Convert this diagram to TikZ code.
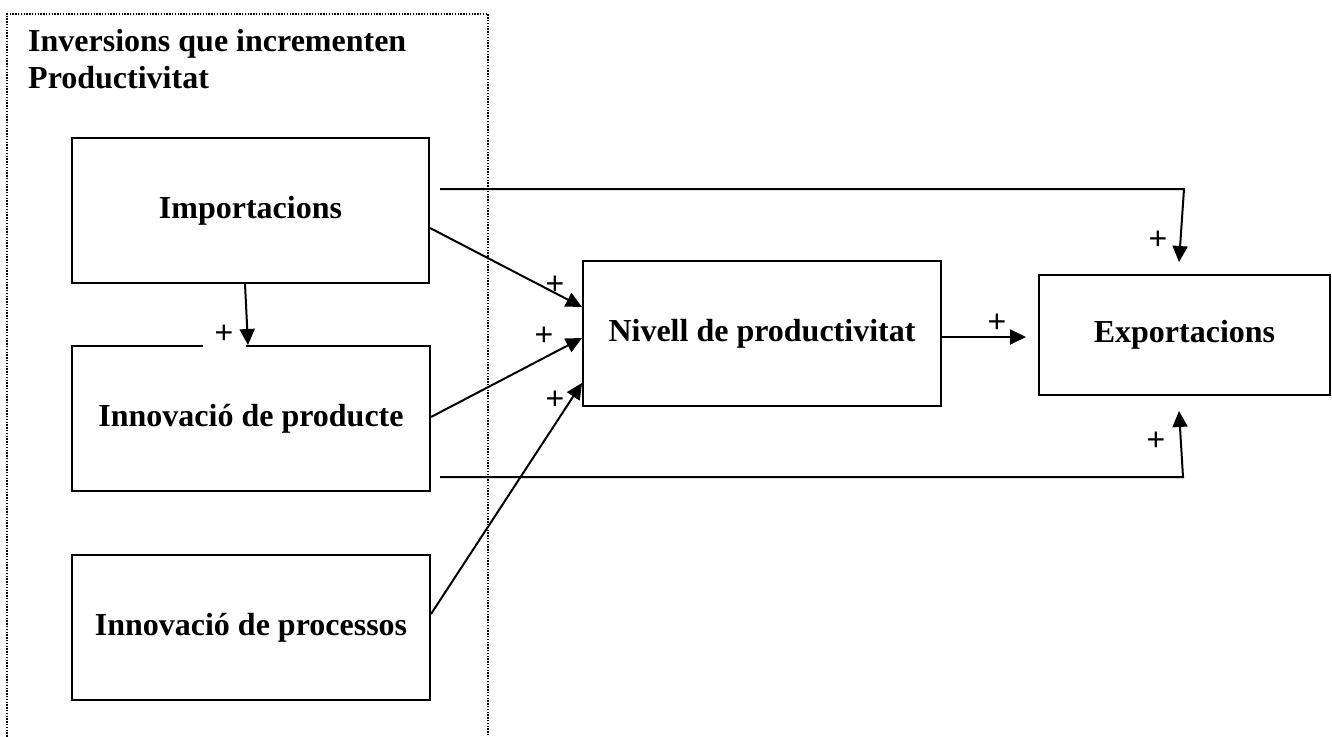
\documentclass[tikz,border=0pt]{standalone}
\usepackage{fontspec}
\setmainfont{Liberation Serif}
\newfontfamily\plusfont{Liberation Sans}
\usetikzlibrary{arrows.meta}
\begin{document}
\begin{tikzpicture}[x=1pt,y=-1pt,
  box/.style={draw,line width=2pt,inner sep=0pt,font=\fontsize{32}{37}\selectfont\bfseries},
  conn/.style={line width=2pt,-{Triangle[length=16pt,width=15pt]}},
  sign/.style={inner sep=0pt,font=\plusfont\fontsize{32}{37}\selectfont},
  group/.style={line width=1.8pt,dash pattern=on 1.4pt off 1.4pt}]
\useasboundingbox (0,0) rectangle (1332,736);
\fill[white] (0,0) rectangle (1332,736);
% group frame
\draw[group] (7,745) -- (7,14) -- (488,14) -- (488,745);
\node[anchor=north west,align=left,inner sep=0pt,font=\fontsize{32}{37}\selectfont\bfseries] (title) at (28,29) {Inversions que incrementen\\Productivitat};
% boxes
\node[box,minimum width=357pt,minimum height=145pt] (imp) at (250.5,210.5) {Importacions};
\node[box,minimum width=358pt,minimum height=145pt] (prod) at (251,418.5) {Innovació de producte};
\node[box,minimum width=358pt,minimum height=145pt] (proc) at (251,627.5) {Innovació de processos};
\node[box,minimum width=358pt,minimum height=145pt] (niv) at (762,333.5) {Nivell de productivitat};
\node[box,minimum width=291pt,minimum height=120pt] (exp) at (1184.5,335) {\raisebox{-12pt}{Exportacions}};
% plus on white patch
\node[sign,fill=white,minimum width=43pt,minimum height=28pt] (p0) at (224,334) {+};
% coordinates for bends
\coordinate (c1) at (1184,189);
\coordinate (c2) at (1183,477);
% connectors
\draw[conn] ([xshift=-5.5pt]imp.south) -- ([xshift=-3pt]prod.north);
\draw[conn] ([yshift=-17.5pt]imp.east) -- ([yshift=26.5pt]niv.west);
\draw[conn] ([yshift=1.5pt]prod.east) -- ([yshift=-4.5pt]niv.west);
\draw[conn] ([yshift=13.5pt]proc.east) -- ([yshift=-49.5pt]niv.west);
\draw[conn] ([yshift=-3.5pt]niv.east) -- ([xshift=-12pt,yshift=-2pt]exp.west);
\draw[conn] ([xshift=10pt,yshift=21.5pt]imp.east) -- (c1) -- ([xshift=-5.5pt,yshift=12pt]exp.north);
\draw[conn] ([xshift=9pt,yshift=-58.5pt]prod.east) -- (c2) -- ([xshift=-5.5pt,yshift=-15pt]exp.south);
% signs
\node[sign] (p1) at (555,285) {+};
\node[sign] (p2) at (544,336) {+};
\node[sign] (p3) at (555,400) {+};
\node[sign] (p4) at (997,323) {+};
\node[sign] (p5) at (1158,240) {+};
\node[sign] (p6) at (1156,441) {+};
\end{tikzpicture}
\end{document}
